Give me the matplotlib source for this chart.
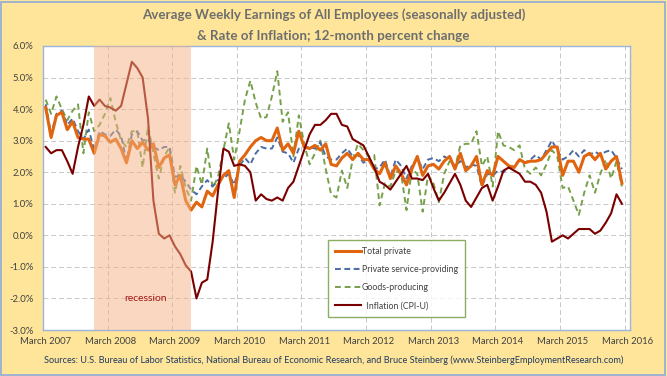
"""
Average weekly earnings of all employees vs. CPI-U inflation,
12-month percent change, March 2007 - February 2016.
"""

import numpy as np
import matplotlib
matplotlib.use('Agg')
import matplotlib.pyplot as plt
from matplotlib.patches import Rectangle

# monthly values, March 2007 .. February 2016 (12-month % change)
total_private = [
    4.05, 3.1, 3.8, 3.9, 3.35, 3.6, 3.1, 3.05, 3.05, 2.6,
    3.2, 3.15, 2.95, 3.05, 2.75, 2.3, 3.0, 2.75, 2.95, 2.7, 2.9, 2.15,
    2.45, 2.55, 1.6, 1.9, 1.1, 0.8, 1.05, 0.9, 1.4, 1.25, 1.6, 1.9,
    2.05, 1.2, 2.35, 2.55, 2.8, 3.0, 3.1, 3.0, 3.0, 3.4, 2.7, 2.9,
    2.6, 3.3, 2.8, 2.75, 2.85, 2.7, 2.9, 2.25, 2.2, 2.45, 2.6, 2.4,
    2.6, 2.4, 2.4, 2.1, 1.95, 2.3, 1.8, 2.2, 1.95, 1.6, 2.1, 2.5,
    1.9, 2.2, 2.25, 2.1, 2.35, 2.5, 2.1, 2.6, 2.05, 2.2, 2.5, 1.6,
    2.05, 1.9, 2.5, 2.35, 2.2, 2.15, 2.4, 2.3, 2.35, 2.35, 2.4, 2.6,
    2.8, 2.8, 1.9, 2.35, 2.35, 2.0, 2.5, 2.6, 2.4, 2.6, 2.1, 2.35,
    2.5, 1.65]
service_providing = [
    4.15, 3.2, 3.85, 3.95, 3.5, 3.7, 3.3, 3.05, 3.35, 2.7,
    3.3, 3.2, 3.15, 3.35, 3.15, 2.35, 3.2, 3.3, 3.0, 3.05, 2.8, 2.7,
    2.8, 2.8, 1.85, 1.9, 1.7, 1.45, 1.3, 1.55, 1.75, 1.55, 1.75, 1.8,
    1.95, 1.6, 2.2, 2.45, 2.25, 2.6, 2.8, 2.75, 2.75, 3.1, 2.65, 2.6,
    2.3, 2.75, 2.8, 2.8, 2.75, 2.95, 2.5, 2.4, 2.4, 2.6, 2.75, 2.5,
    2.55, 2.3, 2.4, 2.1, 2.15, 2.4, 1.85, 2.4, 2.2, 1.8, 2.2, 2.45,
    2.1, 2.4, 2.45, 2.35, 2.5, 2.4, 2.2, 2.35, 2.15, 2.25, 2.2, 1.55,
    1.95, 1.9, 2.05, 2.0, 2.15, 2.2, 2.4, 2.3, 2.4, 2.55, 2.4, 2.7,
    3.0, 2.7, 2.4, 2.5, 2.7, 2.5, 2.7, 2.55, 2.65, 2.55, 2.65, 2.7,
    2.45, 2.1]
goods_producing = [
    4.3, 3.85, 4.4, 4.0, 3.65, 3.95, 4.15, 2.6, 3.9, 3.3,
    3.5, 3.85, 4.35, 3.6, 3.0, 2.8, 3.3, 3.3, 2.15, 3.45, 2.6, 1.8,
    2.5, 2.8, 1.35, 2.2, 1.5, 1.1, 2.2, 1.6, 2.75, 1.5, 1.85, 2.7,
    3.55, 2.4, 3.3, 4.3, 4.9, 4.2, 3.7, 3.75, 4.4, 5.2, 3.6, 3.9,
    2.5, 3.8, 2.9, 2.25, 2.6, 3.0, 2.1, 1.3, 1.2, 2.05, 1.5, 2.4,
    2.9, 2.7, 2.5, 2.55, 0.95, 1.65, 1.55, 2.05, 1.95, 0.8, 2.1, 1.95,
    0.75, 1.9, 1.65, 1.05, 1.95, 2.35, 2.15, 2.85, 2.9, 2.9, 3.3, 2.2,
    2.5, 1.55, 3.3, 2.85, 2.8, 2.7, 2.85, 2.1, 1.95, 2.15, 1.9, 2.25,
    2.7, 2.5, 1.5, 1.55, 1.1, 0.65, 1.35, 1.9, 1.35, 1.95, 2.4, 1.8,
    2.35, 1.55]
inflation = [
    2.8, 2.6, 2.7, 2.7, 2.35, 1.95, 2.8, 3.5, 4.4, 4.1,
    4.3, 4.1, 4.05, 3.95, 4.1, 4.8, 5.5, 5.3, 5.0, 3.7, 1.1, 0.05,
    -0.1, 0.0, -0.35, -0.6, -0.95, -1.15, -2.0, -1.5, -1.4, -0.2, 1.4, 2.75,
    2.65, 2.2, 2.25, 2.2, 2.0, 1.1, 1.3, 1.15, 1.1, 1.2, 1.1, 1.5,
    1.7, 2.2, 2.7, 3.2, 3.5, 3.5, 3.65, 3.85, 3.85, 3.5, 3.45, 3.05,
    2.95, 2.85, 2.5, 2.15, 1.7, 1.6, 1.45, 1.7, 1.95, 2.2, 1.8, 1.8,
    1.75, 1.95, 1.5, 1.1, 1.35, 1.65, 1.95, 1.6, 1.1, 0.9, 1.2, 1.5,
    1.6, 1.1, 1.55, 2.05, 2.15, 2.05, 1.95, 1.7, 1.7, 1.6, 1.35, 0.75,
    -0.2, -0.1, 0.0, -0.1, 0.05, 0.2, 0.2, 0.2, 0.05, 0.15, 0.4, 0.7,
    1.3, 1.0]

year_labels = ['March 2007', 'March 2008', 'March 2009', 'March 2010',
               'March 2011', 'March 2012', 'March 2013', 'March 2014',
               'March 2015', 'March 2016']
y_ticks = [-3, -2, -1, 0, 1, 2, 3, 4, 5, 6]
recession_months = (9, 27)   # Dec 2007 .. Jun 2009 (month index)

font = 'Lato'
plt.rcParams['font.family'] = [font, 'DejaVu Sans']

fig = plt.figure(figsize=(6.67, 3.76), dpi=100)
fig.patch.set_facecolor('#FEE599')
fig.patches.append(Rectangle((0.002, 0.003), 0.995, 0.993, transform=fig.transFigure,
                             fill=False, edgecolor='#8EA9DB', linewidth=1.2))
ax = fig.add_axes([0.0645, 0.1223, 0.88, 0.7554])
ax.set_facecolor('white')

x = np.arange(len(total_private)) + 0.5
n_cats = len(total_private) + 1

ax.plot(x, goods_producing, color='#77A04B', lw=1.4, dashes=(3, 2),
        label='Goods-producing', zorder=3)
ax.plot(x, service_providing, color='#4A6BA6', lw=1.4, dashes=(3, 1.8),
        label='Private service-providing', zorder=4)
ax.plot(x, total_private, color='#E0650E', lw=2.2,
        label='Total private', zorder=5)
ax.plot(x, inflation, color='#7A0000', lw=1.5,
        label='\u00a0\u00a0Inflation (CPI-U)', zorder=6)

# recession band sits over the lines, like the original
ax.axvspan(recession_months[0] + 0.5, recession_months[1] + 0.5,
           color='#F4B183', alpha=0.5, lw=0, zorder=7)
ax.text((recession_months[0] + recession_months[1]) / 2 + 1, -2.0, 'recession',
        color='#A01818', fontsize=7.5, ha='center', va='center', zorder=8)

ax.set_xlim(0, n_cats)
ax.set_ylim(-3, 6)
ax.set_yticks(y_ticks)
ax.set_yticklabels(['%.1f%%' % v for v in y_ticks])
ax.set_xticks(np.arange(len(year_labels)) * 12 + 0.5)
ax.set_xticklabels(year_labels)
ax.set_xticks(np.arange(len(year_labels)) * 12, minor=True)
ax.tick_params(which='both', length=0, labelsize=6.8, colors='#404040')
ax.tick_params(axis='y', pad=7)
ax.tick_params(axis='x', pad=5)
ax.grid(True, which='minor', axis='x', color='#C8C8C8', lw=0.7, ls=(0, (5, 3)))
ax.grid(True, which='major', axis='y', color='#C8C8C8', lw=0.7, ls=(0, (5, 3)))
ax.set_axisbelow(True)
for s in ax.spines.values():
    s.set_color('#9DB4DE')
    s.set_linewidth(1.0)

handles, labels = ax.get_legend_handles_labels()
order = [2, 1, 0, 3]
leg = ax.legend([handles[i] for i in order], [labels[i] for i in order],
                loc='lower left', bbox_to_anchor=(0.486, 0.046),
                fontsize=6.3, frameon=True, fancybox=False,
                handlelength=3.0, handletextpad=0.1, labelspacing=1.05,
                borderpad=0.75, borderaxespad=0)
leg.get_frame().set_edgecolor('#6E9A3C')
leg.get_frame().set_linewidth(1.0)
leg.set_zorder(10)
for t in leg.get_texts():
    t.set_color('#404040')

fig.text(0.5, 0.962, 'Average Weekly Earnings of All Employees (seasonally adjusted)',
         ha='center', va='center', fontsize=9.6, fontweight='bold', color='#6E6E6E')
fig.text(0.5, 0.905, '& Rate of Inflation; 12-month percent change',
         ha='center', va='center', fontsize=9.6, fontweight='bold', color='#6E6E6E')
fig.text(0.5, 0.043, 'Sources: U.S. Bureau of Labor Statistics, National Bureau of Economic '
         'Research, and Bruce Steinberg (www.SteinbergEmploymentResearch.com)',
         ha='center', va='center', fontsize=6.6, color='#1F3A60')

plt.savefig('out.png', dpi=100, facecolor=fig.get_facecolor())
